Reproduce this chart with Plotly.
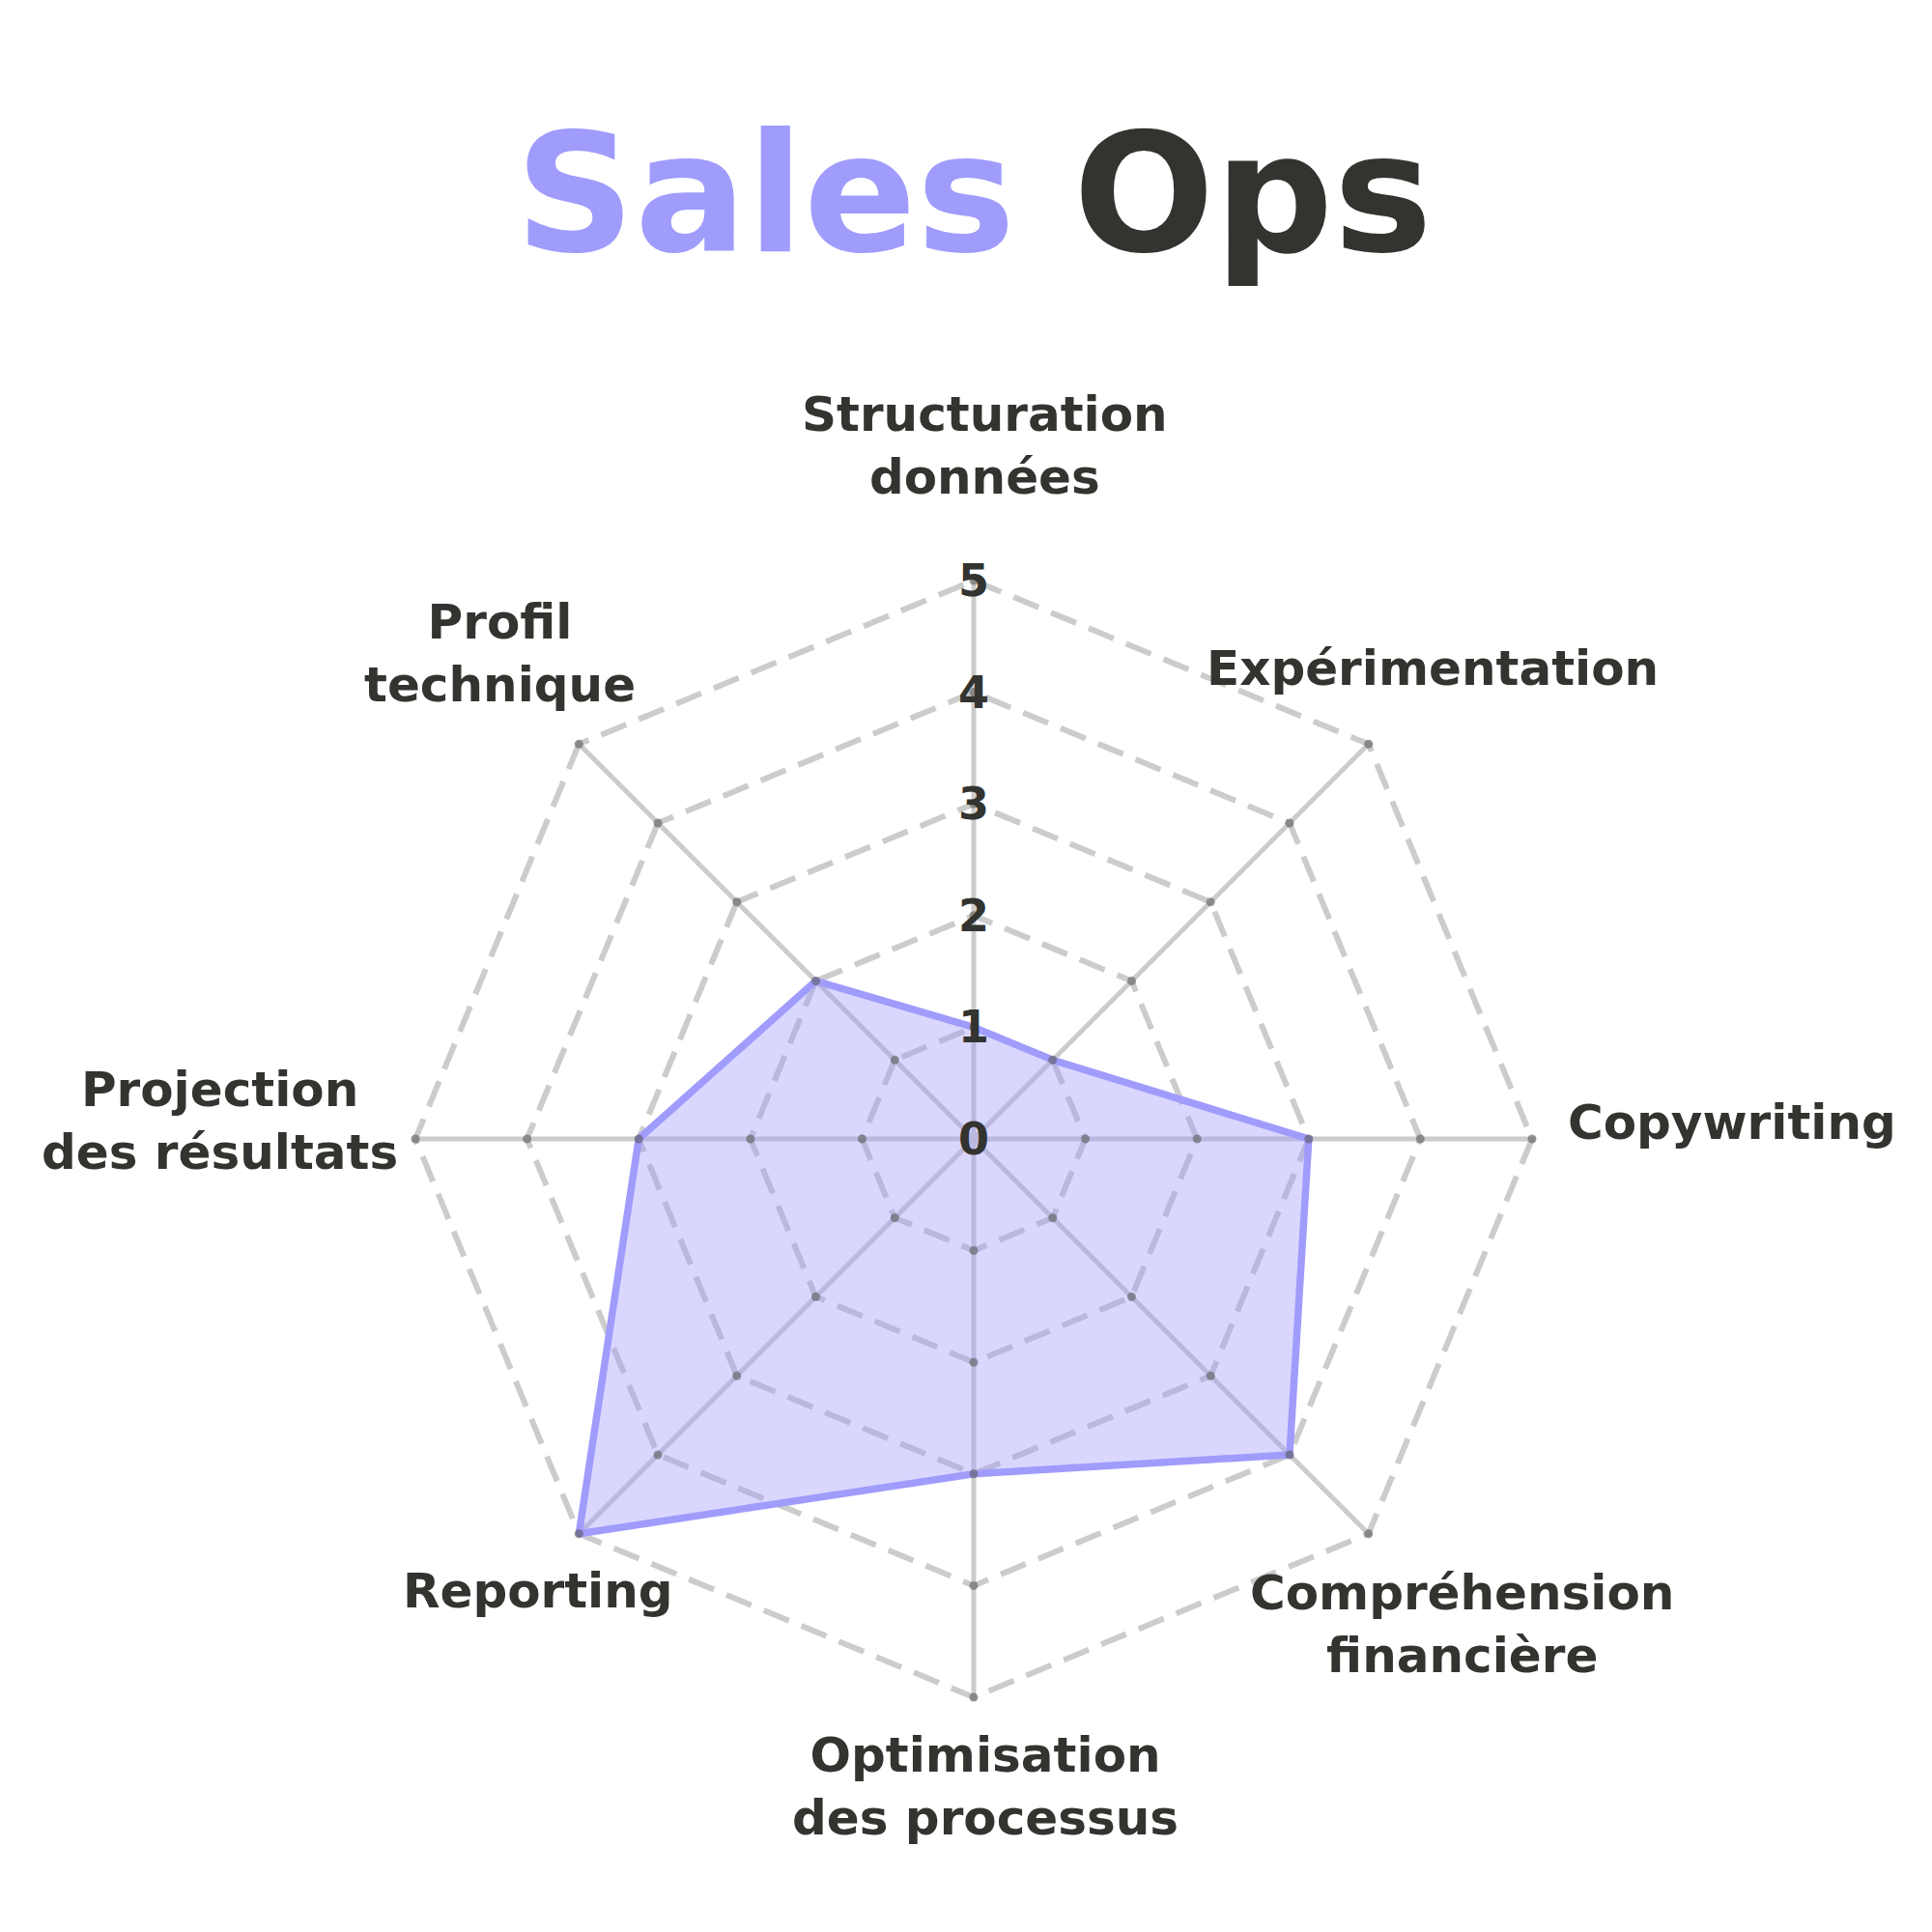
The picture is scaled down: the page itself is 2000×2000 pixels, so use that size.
import plotly.graph_objects as go

categories = ["Structuration<br>données", "Expérimentation", "Copywriting",
              "Compréhension<br>financière", "Optimisation<br>des processus",
              "Reporting", "Projection<br>des résultats", "Profil<br>technique"]
values = [1, 1, 3, 4, 3, 5, 3, 2]
radial_ticks = [0, 1, 2, 3, 4, 5]

DARK = "#33332f"
PURPLE = "#a09cfc"
GRID = "#cccccc"

R_MAX = 5.03
CX, CY = 0.5, 1 - 1171 / 2000
R5 = 578 / 2000                      # paper radius of value 5
HALF = R5 * R_MAX / 5                # half size of polar domain
DOM_X = [CX - HALF, CX + HALF]
DOM_Y = [CY - HALF, CY + HALF]

# label placement (in units of r=5 radius): (dx, dy-up, xanchor)
LABEL_POS = [(0.02, 1.241, "center"), (0.821, 0.842, "center"),
             (1.061, 0.030, "left"), (0.874, -0.869, "center"),
             (0.02, -1.160, "center"), (-0.781, -0.810, "center"),
             (-1.028, 0.032, "right"), (-0.848, 0.870, "center")]

fig = go.Figure()

fig.add_trace(go.Scatterpolar(
    r=values + values[:1], theta=categories + categories[:1],
    mode="lines", fill="toself",
    fillcolor="rgba(160,156,252,0.4)",
    line=dict(color=PURPLE, width=7.5),
    hoverinfo="skip", showlegend=False))

dot_r, dot_t = [], []
for c in categories:
    for t in radial_ticks:
        dot_r.append(t)
        dot_t.append(c)
fig.add_trace(go.Scatterpolar(
    r=dot_r, theta=dot_t, mode="markers",
    marker=dict(size=9, color="rgba(90,90,90,0.6)"),
    hoverinfo="skip", showlegend=False))

annotations = []
# radial tick labels centred on the top spoke
for t in radial_ticks:
    annotations.append(dict(
        x=CX, y=CY + R5 * t / radial_ticks[-1], xref="paper", yref="paper",
        text=str(t), showarrow=False, xanchor="center", yanchor="middle",
        font=dict(family="DejaVu Sans", size=46, color=DARK, weight="bold")))

# category labels
for lab, (dx, dy, xa) in zip(categories, LABEL_POS):
    annotations.append(dict(
        x=CX + R5 * dx, y=CY + R5 * dy, xref="paper", yref="paper",
        text=lab, showarrow=False, xanchor=xa, yanchor="middle",
        align="center",
        font=dict(family="DejaVu Sans", size=50, color=DARK, weight="bold")))

fig.update_layout(
    width=2000, height=2000,
    margin=dict(l=0, r=0, t=0, b=0),
    paper_bgcolor="white", plot_bgcolor="white",
    showlegend=False,
    annotations=annotations,
    title=dict(
        text="<span style='color:#a09cfc'>Sales</span> Ops",
        x=0.5, xanchor="center", y=0.904, yanchor="middle",
        font=dict(family="DejaVu Sans", size=172, color=DARK, weight="bold")),
    polar=dict(
        domain=dict(x=DOM_X, y=DOM_Y),
        bgcolor="rgba(0,0,0,0)",
        gridshape="linear",
        radialaxis=dict(
            range=[0, R_MAX], tickvals=radial_ticks, showticklabels=False,
            showline=False, ticks="",
            gridcolor=GRID, gridwidth=6, griddash="28px,14px"),
        angularaxis=dict(
            rotation=90, direction="clockwise",
            gridcolor=GRID, gridwidth=5,
            showline=False, showticklabels=False, ticks=""),
    ),
)

fig.write_html("out.html")
